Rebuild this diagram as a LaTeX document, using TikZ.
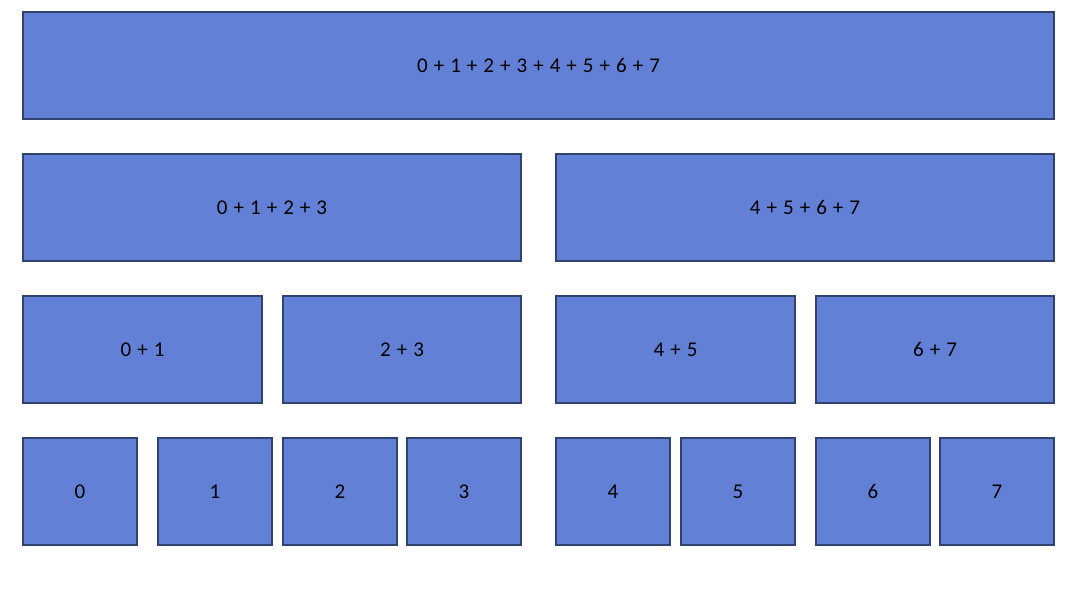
\documentclass[tikz,border=0pt]{standalone}
\usepackage{fontspec}
\setmainfont{Carlito}[WordSpace=1.27]
\definecolor{boxfill}{HTML}{6281D6}
\definecolor{boxline}{HTML}{2F4270}
\begin{document}
\begin{tikzpicture}[x=1pt,y=-1pt,
  box/.style={draw=boxline,fill=boxfill,line width=1.3pt,inner sep=0pt,
    minimum height=107pt,font=\fontsize{21}{25}\selectfont,text=black}]
\useasboundingbox (0,0) rectangle (1081,596);
\path[fill=white] (0,0) rectangle (1081,596);
% row 1
\node[box,minimum width=1031pt] (s07) at (538.5,65.5) {0 + 1 + 2 + 3 + 4 + 5 + 6 + 7};
% row 2
\node[box,minimum width=498pt] (s03) at (272,207.5) {0 + 1 + 2 + 3};
\node[box,minimum width=498pt] (s47) at (805,207.5) {4 + 5 + 6 + 7};
% row 3
\node[box,minimum width=239pt] (s01) at (142.5,349.5) {0 + 1};
\node[box,minimum width=238pt] (s23) at (402,349.5) {2 + 3};
\node[box,minimum width=239pt] (s45) at (675.5,349.5) {4 + 5};
\node[box,minimum width=238pt] (s67) at (935,349.5) {6 + 7};
% row 4
\node[box,minimum width=114pt] (n0) at (80,491.5) {0};
\node[box,minimum width=114pt] (n1) at (215,491.5) {1};
\node[box,minimum width=114pt] (n2) at (340,491.5) {2};
\node[box,minimum width=114pt] (n3) at (464,491.5) {3};
\node[box,minimum width=114pt] (n4) at (613,491.5) {4};
\node[box,minimum width=114pt] (n5) at (738,491.5) {5};
\node[box,minimum width=114pt] (n6) at (873,491.5) {6};
\node[box,minimum width=114pt] (n7) at (997,491.5) {7};
\end{tikzpicture}
\end{document}
